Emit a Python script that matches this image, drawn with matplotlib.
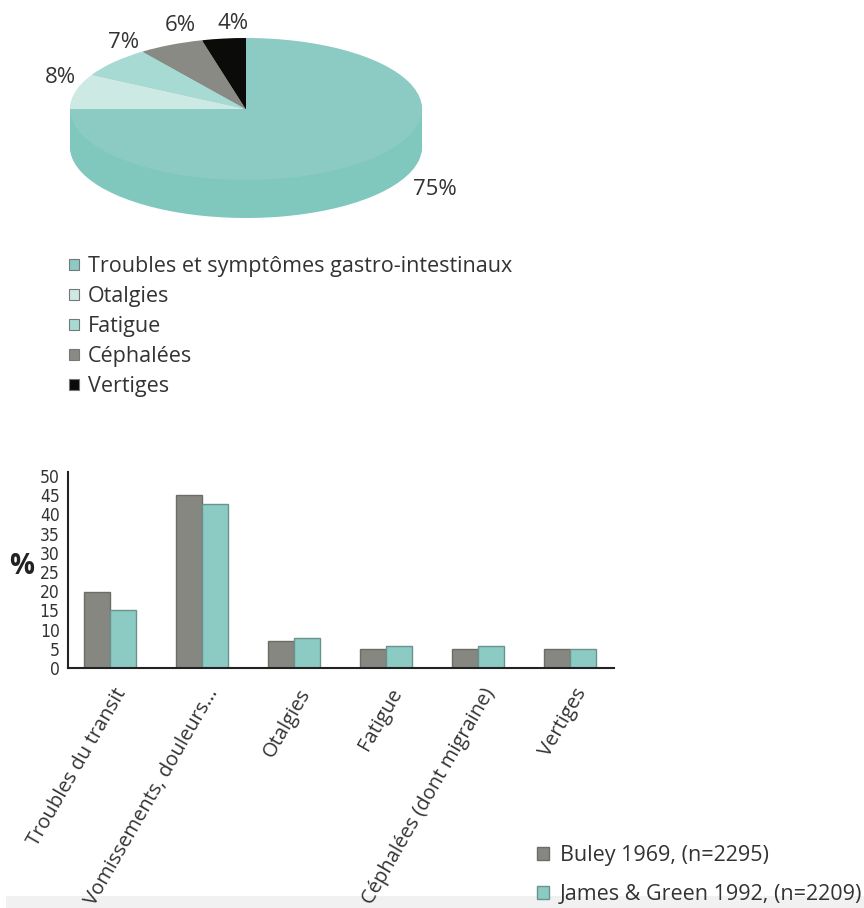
import matplotlib
matplotlib.use("Agg")
import matplotlib.pyplot as plt
from matplotlib.patches import Patch, Rectangle
import matplotlib.transforms as mtransforms

plt.rcParams['font.family'] = ['Open Sans', 'DejaVu Sans']

# ---------------- data ----------------
pie_labels = ["Troubles et symptômes gastro-intestinaux", "Otalgies", "Fatigue",
              "Céphalées", "Vertiges"]
pie_values = [75, 8, 7, 6, 4]

bar_categories = ["Troubles du transit", "Vomissements, douleurs...", "Otalgies",
                  "Fatigue", "Céphalées (dont migraine)", "Vertiges"]
buley_1969 = [19.7, 45, 7, 5, 5, 5]
james_green_1992 = [15, 42.8, 7.7, 5.7, 5.7, 5]
bar_series_labels = ["Buley 1969, (n=2295)", "James & Green 1992, (n=2209)"]
y_ticks = [0, 5, 10, 15, 20, 25, 30, 35, 40, 45, 50]

# ---------------- style ----------------
pie_top_colors = ["#8ccbc3", "#cde9e4", "#a6dad3", "#8a8a85", "#0b0b09"]
pie_side_colors = ["#80c7be", "#bfe1dc", "#96d0c8", "#7a7a75", "#050505"]
gray_bar = "#878782"
teal_bar = "#8ccbc3"
text_col = "#333333"

W, H = 864, 908
fig = plt.figure(figsize=(W / 100, H / 100), dpi=100)

def fx(px):
    return px / W

def fy(py):
    return 1 - py / H

# ---------------- pseudo-3D pie ----------------
depth = 0.535
pax = fig.add_axes([fx(70), fy(218), fx(422) - fx(70), fy(38) - fy(218)])
n_layers = 30
for k in range(n_layers, 0, -1):
    pax.pie(pie_values, colors=pie_side_colors, startangle=90, counterclock=False,
            center=(0, -depth * k / n_layers), radius=1.0,
            wedgeprops=dict(linewidth=0))
pax.pie(pie_values, colors=pie_top_colors, startangle=90, counterclock=False,
        center=(0, 0), radius=1.0, wedgeprops=dict(linewidth=0))
pax.set_aspect('auto')
pax.set_xlim(-1, 1)
pax.set_ylim(-1 - depth, 1)
pax.axis('off')

pct_pos = [(1.074, -1.14), (-1.057, 0.45), (-0.693, 0.93), (-0.375, 1.18), (-0.074, 1.21)]
for v, (x, y) in zip(pie_values, pct_pos):
    pax.text(x, y, f"{v}%", fontsize=16, color=text_col, ha='center', va='center',
             clip_on=False)

# pie legend
handles = [Patch(facecolor=c, edgecolor="#777777", linewidth=0.8) for c in pie_top_colors]
fig.legend(handles, pie_labels, loc='upper left', bbox_to_anchor=(fx(69), fy(256)),
           frameon=False, fontsize=15.5, handlelength=0.45, handleheight=0.45,
           handletextpad=0.42, labelspacing=0.42, labelcolor=text_col,
           borderaxespad=0, borderpad=0)

# ---------------- bar chart ----------------
bax = fig.add_axes([fx(68), fy(668), fx(614) - fx(68), fy(476) - fy(668)])
xs = list(range(len(bar_categories)))
bw = 0.28
b1 = bax.bar([x - bw / 2 for x in xs], buley_1969, width=bw, color=gray_bar,
             edgecolor="#6c6c68", linewidth=1.0, label=bar_series_labels[0])
b2 = bax.bar([x + bw / 2 for x in xs], james_green_1992, width=bw, color=teal_bar,
             edgecolor="#6a938d", linewidth=1.0, label=bar_series_labels[1])
bax.set_xlim(-0.457, 5.478)
bax.set_ylim(0, 50)
bax.set_yticks(y_ticks)
bax.set_yticklabels([str(t) for t in y_ticks], fontsize=12.5, color=text_col,
                    fontstretch='condensed', family=['DejaVu Sans'])
bax.tick_params(axis='y', length=0, pad=6)
bax.tick_params(axis='x', length=0)
for s in ['top', 'right']:
    bax.spines[s].set_visible(False)
bax.spines['left'].set_color('#222222')
bax.spines['bottom'].set_color('#222222')
bax.spines['left'].set_linewidth(1.5)
bax.spines['bottom'].set_linewidth(1.5)
bax.spines['left'].set_bounds(0, 51)
bax.set_xticks(xs)
offset = mtransforms.ScaledTranslation(0.12, -0.17, fig.dpi_scale_trans)
bax.set_xticklabels(bar_categories, rotation=60, ha='right', va='center',
                    rotation_mode='anchor', fontsize=14.5, color=text_col)
for lab in bax.get_xticklabels():
    lab.set_transform(lab.get_transform() + offset)
fig.text(fx(22), fy(566), "%", fontsize=20, fontweight='bold', color='#222222',
         ha='center', va='center')

fig.legend([b1, b2], bar_series_labels, loc='upper left',
           bbox_to_anchor=(fx(537), fy(845)), frameon=False, fontsize=15.5,
           handlelength=0.56, handleheight=0.56, handletextpad=0.5,
           labelspacing=0.85, labelcolor=text_col, borderaxespad=0, borderpad=0)

# faint bottom band of the screenshot
fig.patches.append(Rectangle((fx(6), 0), 1, fy(896), transform=fig.transFigure,
                             facecolor="#f1f1f1", edgecolor='none', zorder=-1))

fig.savefig("out.png", dpi=100)
